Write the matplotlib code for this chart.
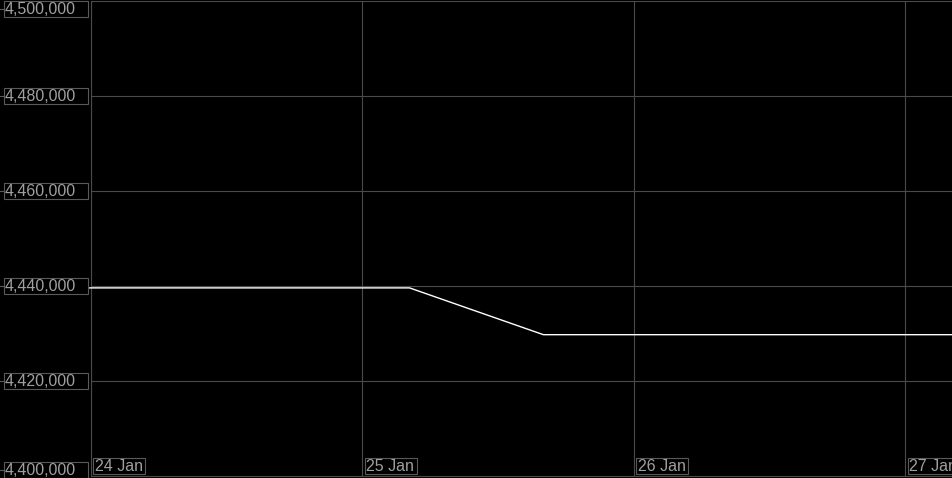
import pandas as pd
import matplotlib.pyplot as plt
import matplotlib.dates as mdates
from matplotlib.patches import Rectangle
from matplotlib.lines import Line2D
from matplotlib.transforms import IdentityTransform

# data
times = pd.to_datetime(["2024-01-23 23:45", "2024-01-25 04:10",
                        "2024-01-25 16:00", "2024-01-27 04:13"])
values = [4439600, 4439600, 4429750, 4429750]

y_ticks = [4400000, 4420000, 4440000, 4460000, 4480000, 4500000]
x_ticks = pd.to_datetime(["2024-01-24", "2024-01-25", "2024-01-26", "2024-01-27"])
x_labels = ["24 Jan", "25 Jan", "26 Jan", "27 Jan"]

W, H = 953, 478
grid_c = "#4a4a4a"
box_c = "#5a5a5a"
text_c = "#a0a0a0"
font = "Liberation Sans"
fsize = 11.5

fig = plt.figure(figsize=(W / 100, H / 100), dpi=100, facecolor="black")
ax = fig.add_axes([91 / W, 2 / H, (W - 91) / W, 475 / H])
ax.set_facecolor("black")

ax.plot(times, values, color="white", lw=1.0, zorder=3, clip_on=False)

ax.set_xlim(x_ticks[0], times[-1])
ax.set_ylim(y_ticks[0], y_ticks[-1])
ax.set_xticks(x_ticks)
ax.set_yticks(y_ticks)
ax.tick_params(length=0, labelleft=False, labelbottom=False)
ax.grid(True, color=grid_c, lw=0.8)
for s in ["top", "right"]:
    ax.spines[s].set_visible(False)
for s in ["left", "bottom"]:
    ax.spines[s].set_color(grid_c)
    ax.spines[s].set_linewidth(0.8)

# y labels in boxes left of the plot
for v in y_ticks:
    yc = ax.transData.transform((mdates.date2num(x_ticks[0]), v))[1]
    yc = min(max(yc, 8), H - 9)
    fig.add_artist(Rectangle((3.5, yc - 8), 84, 16, fc="black", ec=box_c,
                             lw=0.8, transform=IdentityTransform(), zorder=4))
    fig.add_artist(Line2D([0, 3], [yc, yc], color=box_c, lw=0.8,
                          transform=IdentityTransform(), zorder=4))
    fig.text(4.5, yc - 0.5, f"{v:,}", color=text_c, fontsize=fsize, family=font,
             ha="left", va="center", transform=IdentityTransform(), zorder=5)

# x labels in boxes along the bottom
for t, lab in zip(x_ticks, x_labels):
    xc = ax.transData.transform((mdates.date2num(t), y_ticks[0]))[0]
    fig.add_artist(Rectangle((xc + 2.5, 4.5), 52, 15.5, fc="black", ec=box_c,
                             lw=0.8, transform=IdentityTransform(), zorder=4))
    fig.text(xc + 4, 11.5, lab, color=text_c, fontsize=fsize, family=font,
             ha="left", va="center", transform=IdentityTransform(), zorder=5)

fig.savefig("out.png", dpi=100, facecolor="black")
